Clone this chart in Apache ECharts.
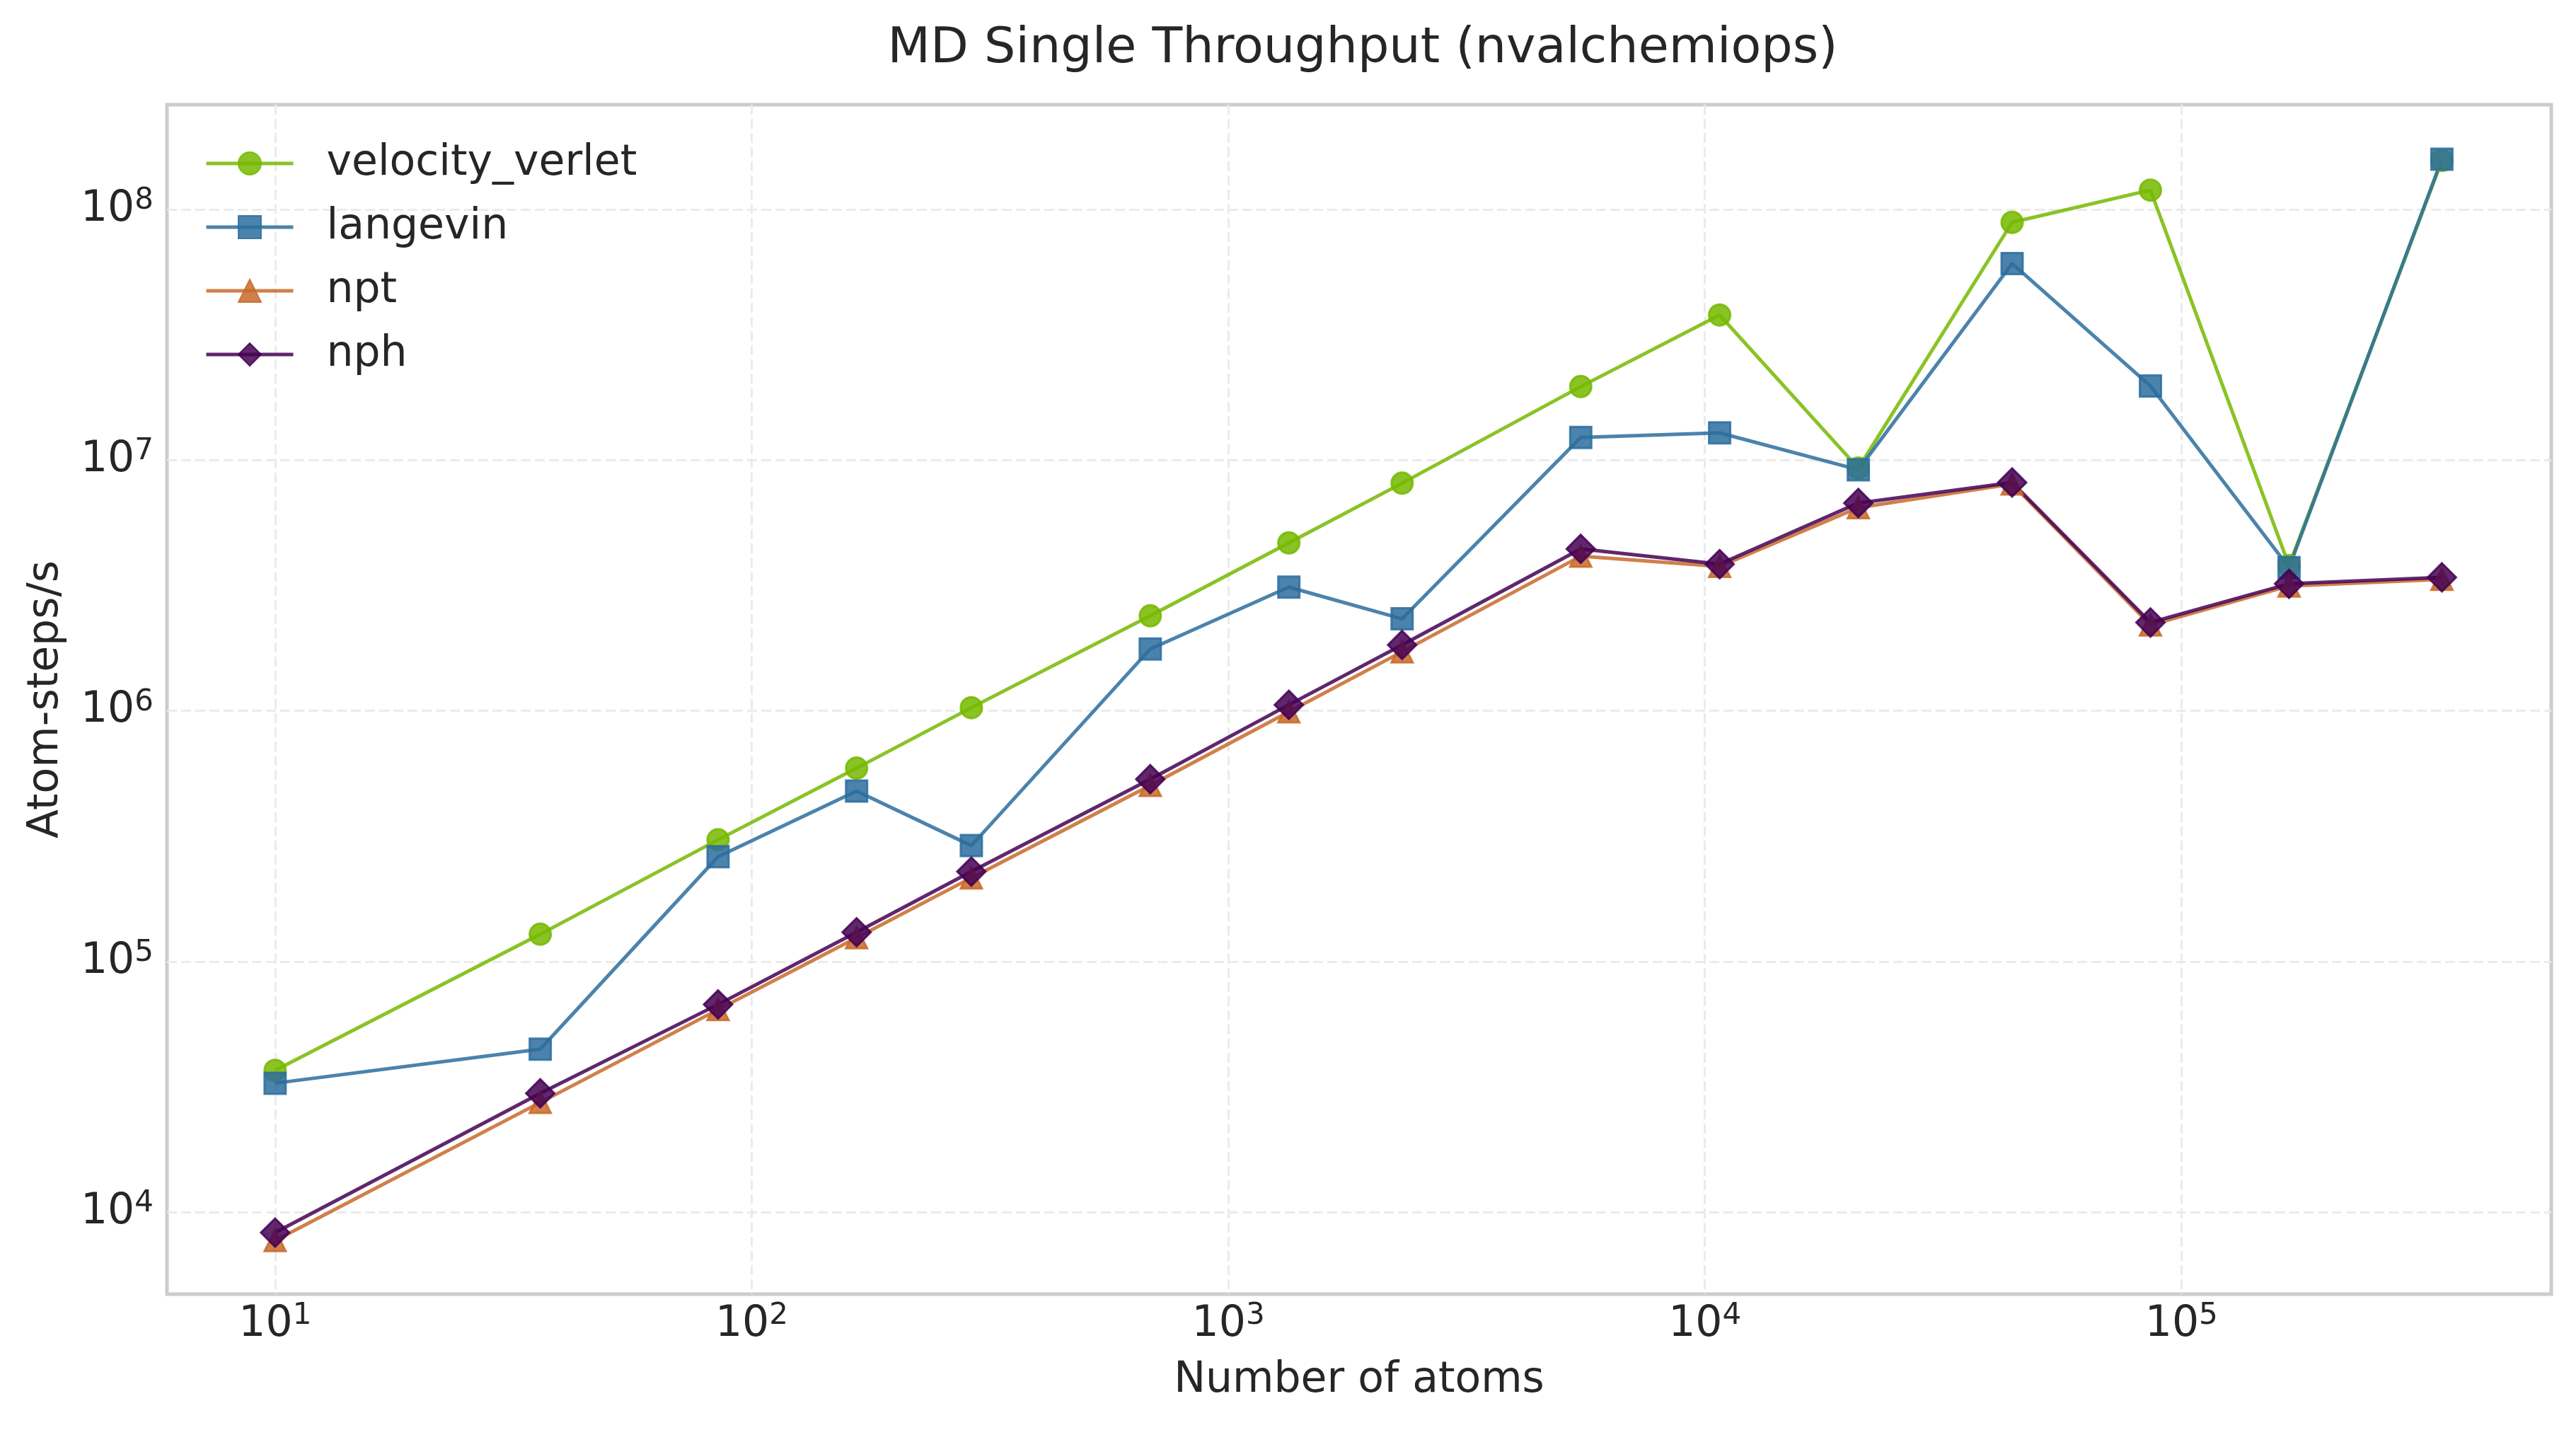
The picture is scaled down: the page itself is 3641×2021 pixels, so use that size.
<!DOCTYPE html>
<html>
<head>
<meta charset="utf-8">
<script src="https://cdn.jsdelivr.net/npm/echarts@6/dist/echarts.min.js"></script>
<style>
  html, body { margin: 0; padding: 0; background: #fff; }
  #chart { width: 3641px; height: 2021px; }
</style>
</head>
<body>
<div id="chart"></div>
<script>
// number of atoms (x) and throughput in atom-steps/s (y)
const atoms = [10, 36, 85, 166, 289, 686, 1340, 2316, 5490, 10740, 20990, 44130, 86100, 168200, 352000]
const velocityVerlet = [36800, 128500, 306000, 591000, 1030000, 2395000, 4680000, 8100000, 19670000, 37960000, 9300000, 88900000, 119600000, 3800000, 157000000]
const langevin = [32700, 44700, 262000, 478500, 290000, 1766000, 3118000, 2329000, 12330000, 12860000, 9160000, 60900000, 19770000, 3730000, 158900000]
const npt = [7710, 27400, 64300, 124400, 215700, 504500, 991000, 1721000, 4140000, 3770000, 6470000, 8040000, 2200000, 3150000, 3350000]
const nph = [8290, 29800, 67400, 130900, 228500, 534000, 1057000, 1833000, 4430000, 3850000, 6750000, 8150000, 2252000, 3213000, 3410000]

const font = 'DejaVu Sans'
const ink = '#262626'

function line (name, values, symbol, size, color) {
  return {
    name: name,
    type: 'line',
    data: atoms.map((a, i) => [a, values[i]]),
    symbol: symbol,
    symbolSize: size,
    lineStyle: { color: color, width: 5, opacity: 0.85 },
    itemStyle: { color: color, borderColor: color, borderWidth: 3, opacity: 0.85 },
    emphasis: { disabled: true }
  }
}

function powLabel (v) {
  return '{b|10}{s|' + Math.round(Math.log10(v)) + '}'
}

const labelRich = {
  b: { fontFamily: font, fontSize: 60, color: ink, lineHeight: 66 },
  s: { fontFamily: font, fontSize: 42, color: ink, verticalAlign: 'top', lineHeight: 44 }
}

const splitLine = {
  show: true,
  showMinLine: false,
  showMaxLine: false,
  lineStyle: { color: '#ebebeb', width: 3, type: [14, 6] }
}

const chart = echarts.init(document.getElementById('chart'))
chart.setOption({
  animation: false,
  backgroundColor: '#ffffff',
  title: {
    text: 'MD Single Throughput (nvalchemiops)',
    left: 1921,
    textAlign: 'center',
    top: 30,
    textStyle: { fontFamily: font, fontSize: 70, fontWeight: 'normal', color: ink }
  },
  legend: {
    orient: 'vertical',
    left: 289,
    top: 201,
    padding: 0,
    itemWidth: 123,
    itemHeight: 40,
    itemGap: 30,
    lineStyle: { width: 5 },
    textStyle: { fontFamily: font, fontSize: 60, color: ink, padding: [0, 0, 0, 42] },
    data: ['velocity_verlet', 'langevin', 'npt', 'nph']
  },
  grid: {
    left: 236, top: 148, right: 35, bottom: 192,
    show: true, borderColor: '#cccccc', borderWidth: 5
  },
  xAxis: {
    type: 'log',
    logBase: 10,
    min: 5.93,
    max: 597000,
    name: 'Number of atoms',
    nameLocation: 'middle',
    nameGap: 92,
    nameTextStyle: { fontFamily: font, fontSize: 60, color: ink },
    axisLine: { show: false },
    axisTick: { show: false },
    axisLabel: { formatter: powLabel, rich: labelRich, margin: 10, showMinLabel: false, showMaxLabel: false },
    splitLine: splitLine,
    minorSplitLine: { show: false }
  },
  yAxis: {
    type: 'log',
    logBase: 10,
    min: 4710,
    max: 262000000,
    name: 'Atom-steps/s',
    nameLocation: 'middle',
    nameGap: 141,
    nameTextStyle: { fontFamily: font, fontSize: 60, color: ink },
    axisLine: { show: false },
    axisTick: { show: false },
    axisLabel: { formatter: powLabel, rich: labelRich, margin: 19, showMinLabel: false, showMaxLabel: false },
    splitLine: splitLine,
    minorSplitLine: { show: false }
  },
  series: [
    line('velocity_verlet', velocityVerlet, 'circle', 30, '#76b900'),
    line('langevin', langevin, 'rect', 30, '#2b6d9e'),
    line('npt', npt, 'triangle', 30, '#c86a2a'),
    line('nph', nph, 'diamond', 40, '#440154')
  ]
})
</script>
</body>
</html>
